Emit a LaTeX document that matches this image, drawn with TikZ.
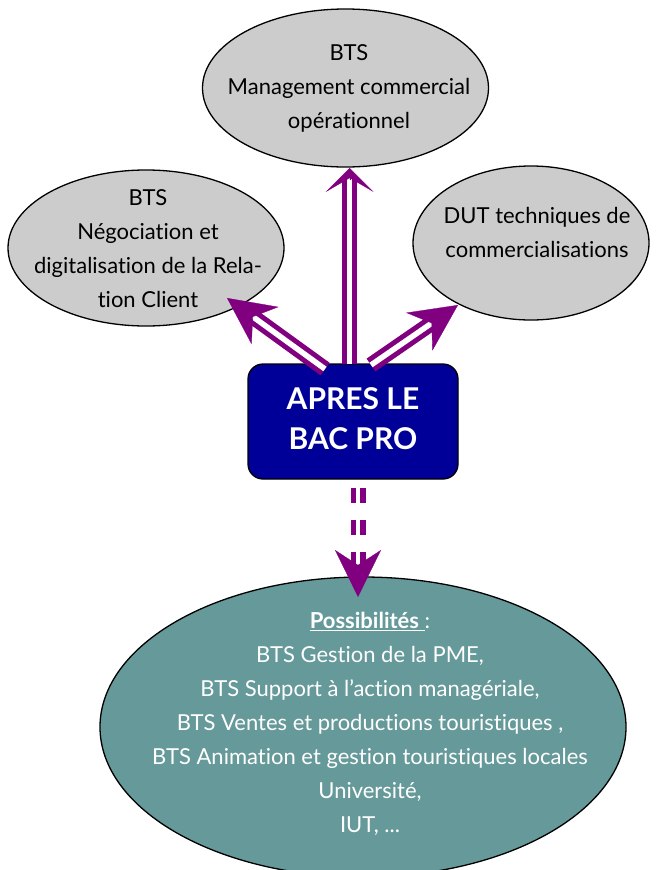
\documentclass[tikz,border=0pt]{standalone}
\usepackage{fontspec}
\setmainfont{Lato}[Ligatures={NoCommon,NoRequired,NoContextual,NoDiscretionary}]
\usetikzlibrary{arrows.meta,shapes.geometric,calc}
\definecolor{pur}{RGB}{128,0,128}
\definecolor{ellgrey}{RGB}{204,204,204}
\definecolor{boxblue}{RGB}{0,0,153}
\definecolor{tealfill}{RGB}{102,153,153}
\begin{document}
\begin{tikzpicture}[x=1pt,y=-1pt,
  ell/.style={ellipse, draw=black, line width=1.3pt, fill=ellgrey, inner sep=0pt},
  txt/.style={inner sep=0pt, font=\fontsize{22}{34}\selectfont},
  shaft/.style={draw=pur, double=white, double distance=5.5pt, line width=5pt},
  dshaft/.style={draw=pur, double=white, double distance=4pt, line width=5.5pt, dash pattern=on 15pt off 17pt},
  headshort/.style={draw=pur, fill=pur, line width=0.3pt, -{Stealth[length=24pt,width=48pt,inset=14pt]}},
  headlong/.style={draw=pur, fill=pur, line width=0.3pt, -{Stealth[length=47pt,width=46pt,inset=15pt]}},
]
\clip (0,0) rectangle (656,870);
\fill[white] (0,0) rectangle (656,870);

% ellipses
\node[ell, minimum width=286, minimum height=158] (t) at (345.5,88) {};
\node[ell, minimum width=276, minimum height=156] (l) at (146,248) {};
\node[ell, minimum width=236, minimum height=154] (r) at (531,243) {};
\node[ell, fill=tealfill, minimum width=526, minimum height=300] (p) at (363,727) {};

% texts
\node[txt] (tt) at (349,88) {\begin{tabular}{@{}c@{}}BTS\\Management commercial\\opérationnel\end{tabular}};
\node[txt] (lt) at (148,250) {\begin{tabular}{@{}c@{}}BTS\\Négociation et\\digitalisation de la Rela-\\tion Client\end{tabular}};
\node[txt] (rt) at (537,234) {\begin{tabular}{@{}c@{}}DUT techniques de\\commercialisations\end{tabular}};
\node[txt, text=white] (pt) at (370,724) {\begin{tabular}{@{}c@{}}\underline{\textbf{Possibilités} }:\\BTS Gestion de la PME,\\BTS Support à l’action managériale,\\BTS Ventes et productions touristiques ,\\BTS Animation et gestion touristiques locales\\Université,\\IUT, ...\end{tabular}};

% central box
\node[draw=black, line width=1.3pt, fill=boxblue, rounded corners=15pt,
      minimum width=210, minimum height=115, text=white,
      font=\fontsize{30}{40}\selectfont\bfseries, inner sep=0pt] (b) at (353,421.5)
      {\begin{tabular}{@{}c@{}}APRES LE\\BAC PRO\end{tabular}};

% arrow end points
\coordinate (ta) at (349.7,364);
\coordinate (tb) at (349.7,168);
\coordinate (la) at (325,369);
\coordinate (lb) at (227,298);
\coordinate (ra) at (371,365);
\coordinate (rb) at (458,305);
\coordinate (da) at (358,488);
\coordinate (db) at (358,597);

% arrows
\draw[shaft, shorten >=8pt] (ta) -- (tb);
\draw[headshort, shorten <=184pt] (ta) -- (tb);
\draw[shaft, shorten >=30pt] (la) -- (lb);
\draw[headlong, shorten <=90pt] (la) -- (lb);
\draw[shaft, shorten >=30pt] (ra) -- (rb);
\draw[headlong, shorten <=74pt] (ra) -- (rb);
\draw[dshaft, shorten >=30pt] (da) -- (db);
\draw[headlong, shorten <=78pt] (da) -- (db);
\end{tikzpicture}
\end{document}
